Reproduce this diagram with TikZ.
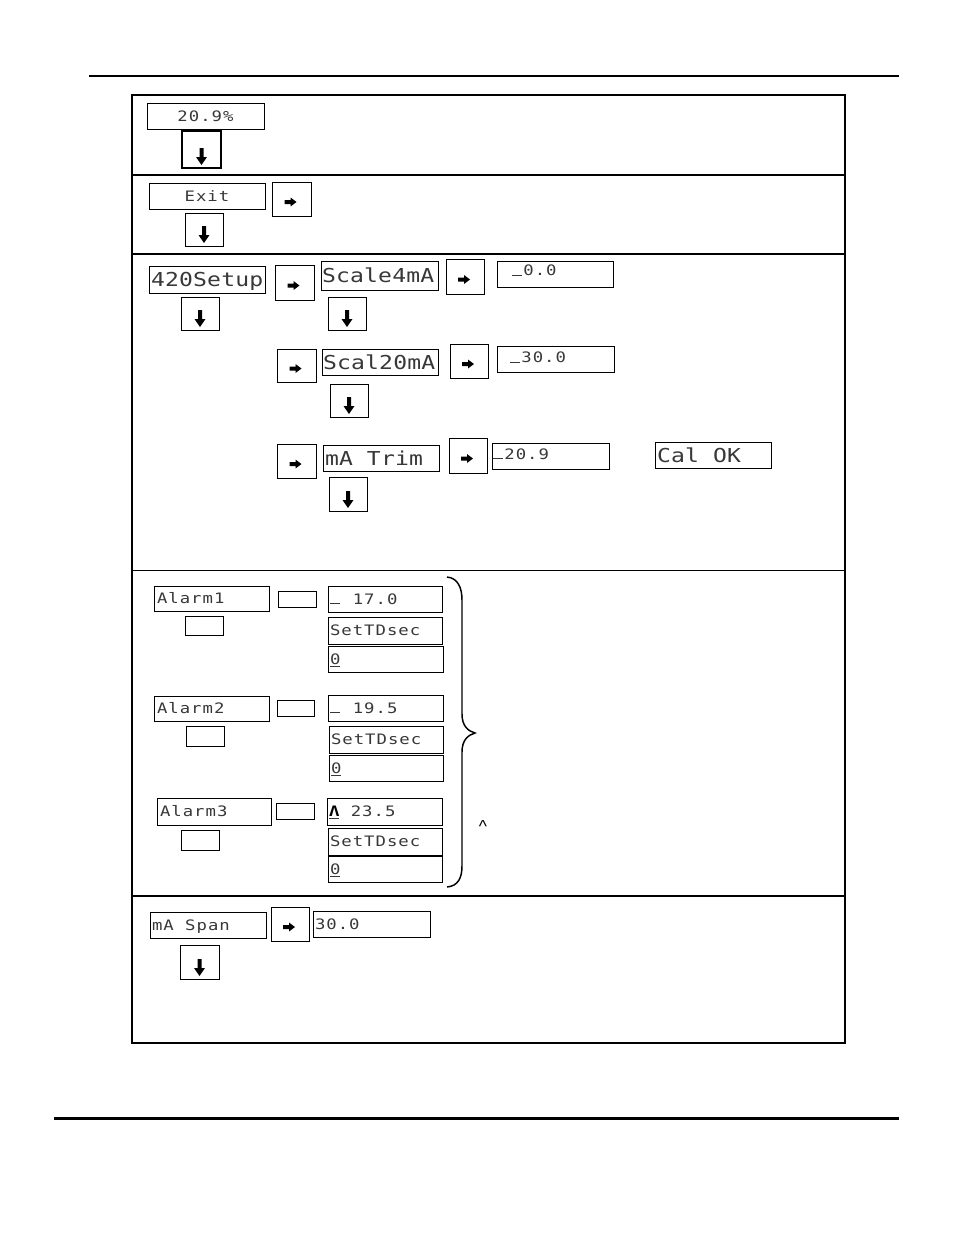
\documentclass[tikz,border=0pt]{standalone}
\usepackage{fontspec}
\setmainfont{Liberation Sans}
\newfontfamily\lcdfont[LetterSpace=7,FakeStretch=1.2]{DejaVu Sans Mono}
\newfontfamily\lcdbigfont[LetterSpace=1,FakeStretch=1.2]{DejaVu Sans Mono}
\usetikzlibrary{calc}
\definecolor{lcd}{gray}{0.22}
\newcommand\ls{\hspace{0.792em}}
\newcommand\lb{\hspace{0.732em}}
\newcommand\cur{\makebox[0.792em][l]{\rule{0.66em}{0.085em}}}
% #1 options, #2 name, #3 x1, #4 y1, #5 x2, #6 y2, #7 left pad (px), #8 text
\newcommand\bx[8][]{%
  \pgfmathsetmacro\bw{(#5-#3)*0.75}%
  \pgfmathsetmacro\bh{(#6-#4)*0.75}%
  \pgfmathsetmacro\tw{(#5-#3-2*#7)*0.75}%
  \pgfmathsetmacro\ps{#7*0.75}%
  \node[box, minimum width=\bw pt, minimum height=\bh pt, text width=\tw pt, inner xsep=\ps pt, #1] (#2) at ({(#3+#5)/2},{(#4+#6)/2}) {#8};}
\newcommand\darr[1]{\fill[black, shift={(#1.south)}]
      (2,-20) -- (2,-11) -- (5.5,-11) -- (0,-3) -- (-5.5,-11) -- (-2,-11) -- (-2,-20) -- cycle;}
\newcommand\rarr[1]{\fill[black, shift={(#1.center)}]
      (-7,1) -- (-1,1) -- (-1,-1.5) -- (5,3) -- (-1,7.5) -- (-1,5) -- (-7,5) -- cycle;}
\begin{document}
\begin{tikzpicture}[x=0.75pt,y=-0.75pt,
  box/.style={draw, line width=0.75pt, inner ysep=0pt, outer sep=0pt, text=lcd, align=left},
  lcds/.style={font=\lcdfont\fontsize{10.8pt}{12pt}\selectfont, text height=7.9pt, text depth=0pt},
  lcdb/.style={font=\lcdbigfont\fontsize{14.4pt}{16pt}\selectfont, text height=10.5pt, text depth=0pt},
  ctr/.style={align=center},
  frame/.style={line width=2.2pt},
  thin divider/.style={line width=0.9pt},
  thick divider/.style={line width=1.6pt},
  pageline/.style={line width=0.8pt},
]
\useasboundingbox (0,0) rectangle (954,1235);
\fill[white] (0,0) rectangle (954,1235);

% page rules
\draw[pageline] (89,76) -- (899,76);
\draw[line width=1.6pt] (54,1118.5) -- (899,1118.5);

% frame and dividers
\draw[frame] (132,95) rectangle (845,1043);
\draw[thin divider] (132,175) -- (845,175);
\draw[thick divider] (132,254) -- (845,254);
\draw[thin divider] (132,570.5) -- (845,570.5);
\draw[thick divider] (132,896) -- (845,896);

% section 1
\bx[lcds,ctr]{v209}{147}{103}{264}{129}{0}{20.9\%}
\bx[line width=2.2pt]{d1}{182}{131}{221}{168}{0}{}
\darr{d1}

% section 2
\bx[lcds,ctr]{exit}{149}{183}{265}{209}{0}{Exit}
\bx{r2}{272}{182}{311}{216}{0}{}
\bx{d2}{185}{213}{223}{246}{0}{}
\rarr{r2}\darr{d2}

% section 3
\bx[lcdb]{setup}{149}{266}{265}{293}{2}{420Setup}
\bx{r3a}{275}{265}{314}{300}{0}{}
\bx[lcdb]{s4}{321}{261}{438}{290}{1}{Scale4mA}
\bx{r3b}{446}{259}{484}{294}{0}{}
\bx[lcds,text depth=5pt]{v0}{497}{261}{613}{287}{15}{\cur 0.0}
\bx{d3a}{181}{297}{219}{330}{0}{}
\bx{d3b}{328}{297}{366}{330}{0}{}
\bx{r3c}{277}{349}{316}{382}{0}{}
\bx[lcdb]{s20}{322}{349}{438}{375}{1}{Scal20mA}
\bx{r3d}{450}{344}{488}{378}{0}{}
\bx[lcds,text depth=2pt]{v30}{497}{346}{614}{372}{13}{\cur 30.0}
\bx{d3c}{330}{384}{368}{417}{0}{}
\bx{r3e}{277}{444}{316}{478}{0}{}
\bx[lcdb]{trim}{323}{445}{439}{471}{2}{mA\lb Trim}
\bx{r3f}{449}{438}{487}{473}{0}{}
\bx[lcds,text depth=3pt]{v209b}{492}{443}{609}{469}{1}{\cur 20.9}
\bx[lcdb]{calok}{655}{442}{771}{468}{2}{Cal\lb OK}
\bx{d3d}{329}{477}{367}{511}{0}{}
\rarr{r3a}\rarr{r3b}\rarr{r3c}\rarr{r3d}\rarr{r3e}\rarr{r3f}
\darr{d3a}\darr{d3b}\darr{d3c}\darr{d3d}

% section 4
\bx[lcds]{a1}{154}{586}{269}{611}{3}{Alarm1}
\bx{e1}{278}{591}{316}{607}{0}{}
\bx[lcds]{a1v}{328}{586}{442}{612}{2}{\cur\ls 17.0}
\bx[lcds]{a1t}{328}{617}{442}{644}{2}{SetTDsec}
\bx[lcds]{a1z}{328}{646}{443}{672}{2}{\underline{0}}
\bx{e1b}{185}{616}{223}{635}{0}{}

\bx[lcds]{a2}{154}{696}{269}{721}{3}{Alarm2}
\bx{e2}{277}{700}{314}{716}{0}{}
\bx[lcds]{a2v}{328}{695}{443}{721}{2}{\cur\ls 19.5}
\bx[lcds]{a2t}{329}{726}{443}{753}{2}{SetTDsec}
\bx[lcds]{a2z}{329}{755}{443}{781}{2}{\underline{0}}
\bx{e2b}{186}{726}{224}{746}{0}{}

\bx[lcds]{a3}{157}{798}{271}{825}{3}{Alarm3}
\bx{e3}{276}{803}{314}{819}{0}{}
\bx[lcds]{a3v}{327}{798}{442}{825}{2}{\underline{\textbf{\textcolor{black}{Λ}}}\ls 23.5}
\bx[lcds]{a3t}{328}{828}{442}{855}{2}{SetTDsec}
\bx[lcds]{a3z}{328}{856}{442}{882}{2}{\underline{0}}
\bx{e3b}{181}{830}{219}{850}{0}{}

% brace
\draw[line width=1.1pt] (447,577) .. controls (458,578) and (462,588) .. (462,600)
  -- (462,714) .. controls (462,726) and (468,731) .. (475,733)
  .. controls (468,735) and (462,740) .. (462,752)
  -- (462,866) .. controls (462,878) and (458,886) .. (447,887);
\node[anchor=base, inner sep=0pt, font=\fontsize{13pt}{14pt}\selectfont] (caret) at (483,832) {\textasciicircum};

% section 5
\bx[lcds]{span}{150}{912}{266}{938}{2}{mA\ls Span}
\bx{r5}{271}{907}{309}{941}{0}{}
\bx[lcds]{v30b}{313}{911}{430}{937}{2}{30.0}
\bx{d5}{180}{945}{219}{979}{0}{}
\rarr{r5}\darr{d5}
\end{tikzpicture}
\end{document}
